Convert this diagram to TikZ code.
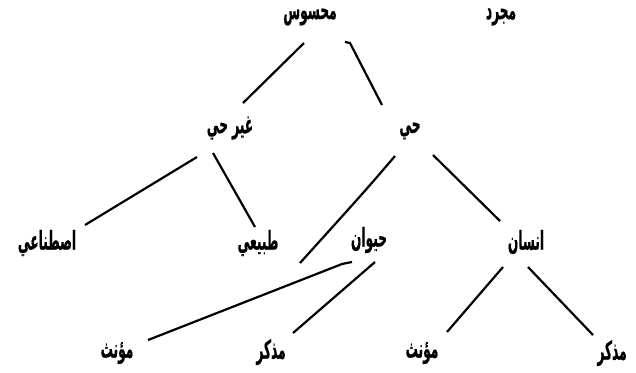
\documentclass[tikz,border=0pt]{standalone}
\usepackage{fontspec}
\usepackage{graphicx}
\usepackage{tikz}
\usetikzlibrary{calc}
\TeXXeTstate=1
\newfontfamily\arabicfont[Script=Arabic,BoldFeatures={FakeBold=0.7}]{DejaVu Sans}
\newcommand{\arw}[1]{\scalebox{0.47}[1]{\arabicfont\bfseries\beginR #1\endR}}

\begin{document}
\begin{tikzpicture}[x=0.5pt,y=-0.5pt,
    word/.style={font=\fontsize{13}{15}\selectfont,inner sep=1pt},
    branch/.style={line width=1.1pt}]
    \clip (0,0) rectangle (636,372);
    \node[word] (mahsus)   at (310,17)  {\arw{محسوس}};
    \node[word] (mujarrad) at (501,17)  {\arw{مجرد}};
    \node[word] (ghayrhay) at (230,128) {\arw{غير حي}};
    \node[word] (hay)      at (410,131) {\arw{حي}};
    \node[word] (istinai)  at (47,243)  {\arw{اصطناعي}};
    \node[word] (tabii)    at (258,243) {\arw{طبيعي}};
    \node[word] (hayawan)  at (369,240) {\arw{حيوان}};
    \node[word] (insan)    at (526,242) {\arw{انسان}};
    \node[word] (muannathA)   at (117,353) {\arw{مؤنث}};
    \node[word] (mudhakkarA)  at (271,352) {\arw{مذكر}};
    \node[word] (muannathB)   at (422,353) {\arw{مؤنث}};
    \node[word] (mudhakkarB)  at (612,353) {\arw{مذكر}};

    \draw[branch] ($(mahsus)+(-6,26)$) -- ($(ghayrhay)+(13,-25)$);
    \draw[branch] ($(mahsus)+(35,25)$) -- ($(mahsus)+(40,26)$) -- ($(hay)+(-28,-26)$);
    \draw[branch] ($(ghayrhay)+(-33,29)$) -- ($(istinai)+(38,-18)$);
    \draw[branch] ($(ghayrhay)+(-17,25)$) -- ($(tabii)+(-3,-16)$);
    \draw[branch] ($(hay)+(-15,25)$) .. controls ($(hay)+(-45,60)$) .. ($(hayawan)+(-69,23)$);
    \draw[branch] ($(hay)+(23,24)$) -- ($(insan)+(-26,-21)$);
    \draw[branch] ($(hayawan)+(-17,22)$) -- ($(hayawan)+(-27,24)$) -- ($(muannathA)+(31,-13)$);
    \draw[branch] ($(hayawan)+(6,22)$) -- ($(mudhakkarA)+(22,-19)$);
    \draw[branch] ($(insan)+(-23,25)$) -- ($(muannathB)+(25,-21)$);
    \draw[branch] ($(insan)+(2,25)$) -- ($(mudhakkarB)+(-19,-18)$);
  \end{tikzpicture}
\end{document}
